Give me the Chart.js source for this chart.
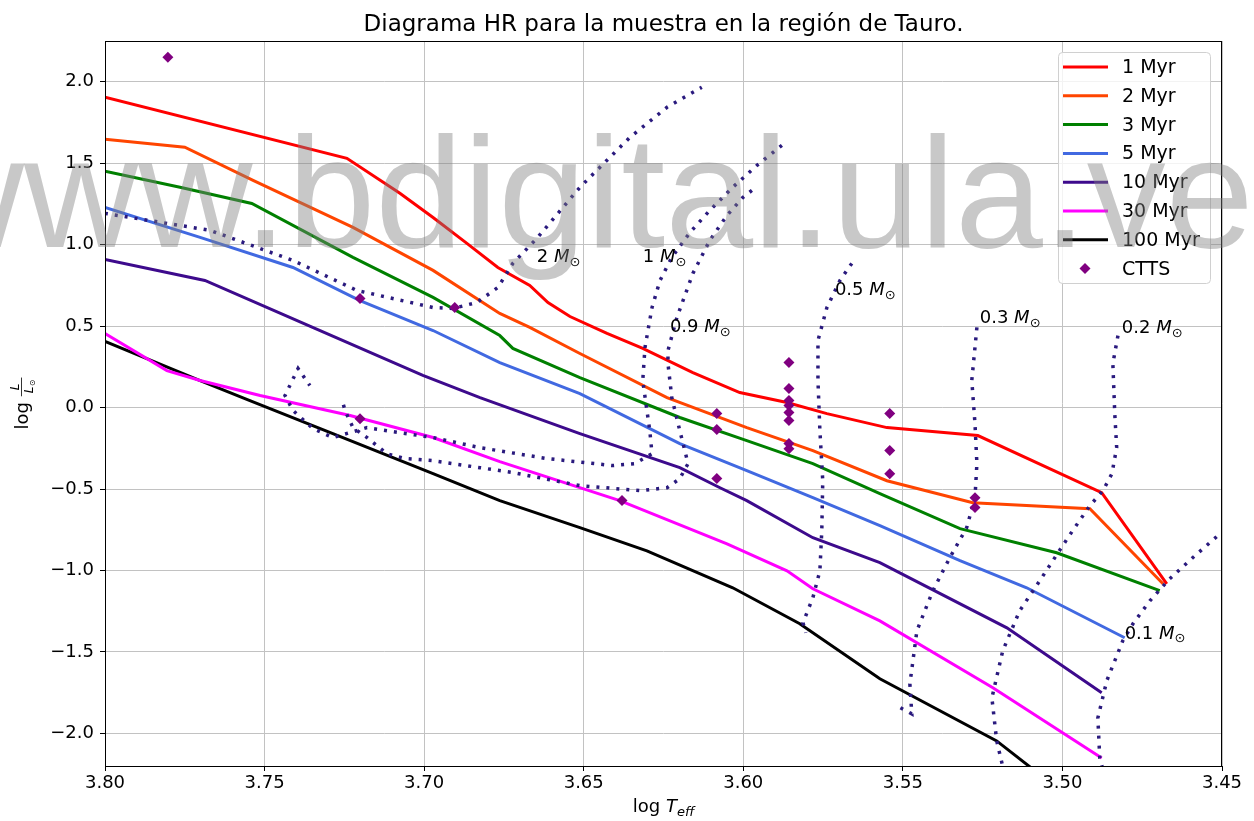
<!DOCTYPE html>
<html>
<head>
<meta charset="utf-8">
<script src="https://cdn.jsdelivr.net/npm/chart.js@4.4.1/dist/chart.umd.min.js"></script>
<style>
  html, body { margin: 0; padding: 0; background: #fff; }
  #wrap { position: relative; width: 1254px; height: 821px; overflow: hidden; }
  #marca {
    position: absolute; left: -90px; top: 113px;
    font-family: "Liberation Sans", Arial, sans-serif; font-size: 158px;
    line-height: 158px; white-space: nowrap; color: rgba(128,128,128,0.43);
    pointer-events: none;
  }
</style>
</head>
<body>
<div id="wrap">
  <canvas id="hr" width="1254" height="821"></canvas>
  <div id="marca">www.bdigital.ula.ve</div>
</div>
<script>
// ejes
const xTicks = [3.80, 3.75, 3.70, 3.65, 3.60, 3.55, 3.50, 3.45];
const yTicks = [-2.0, -1.5, -1.0, -0.5, 0.0, 0.5, 1.0, 1.5, 2.0];

// isocronas [log Teff, log L]
const iso1 = [[3.800,1.905],[3.7242,1.530],[3.7076,1.315],[3.6972,1.167],[3.6866,1.008],[3.6769,0.860],[3.6669,0.750],[3.6612,0.645],[3.6543,0.559],[3.6427,0.455],[3.6315,0.363],[3.6158,0.215],[3.6011,0.092],[3.5863,0.031],[3.5738,-0.037],[3.5550,-0.123],[3.5265,-0.172],[3.4877,-0.522],[3.4673,-1.082]];
const iso2 = [[3.800,1.647],[3.775,1.598],[3.7536,1.395],[3.7223,1.106],[3.6972,0.842],[3.6763,0.578],[3.6669,0.492],[3.6512,0.332],[3.6239,0.061],[3.5989,-0.123],[3.5782,-0.264],[3.5550,-0.449],[3.5281,-0.584],[3.4914,-0.621],[3.4685,-1.081]];
const iso3 = [[3.800,1.450],[3.7765,1.352],[3.7540,1.253],[3.7223,0.922],[3.6972,0.676],[3.6763,0.442],[3.6722,0.363],[3.6512,0.184],[3.6199,-0.061],[3.5989,-0.203],[3.5782,-0.344],[3.5572,-0.528],[3.5321,-0.743],[3.5018,-0.891],[3.4695,-1.124]];
const iso5 = [[3.800,1.229],[3.7702,1.045],[3.7411,0.860],[3.7201,0.657],[3.6972,0.473],[3.6763,0.276],[3.6512,0.086],[3.6199,-0.221],[3.5989,-0.387],[3.5782,-0.553],[3.5572,-0.725],[3.5321,-0.940],[3.5112,-1.106],[3.4805,-1.413]];
const iso10 = [[3.800,0.909],[3.7687,0.780],[3.7326,0.473],[3.7004,0.197],[3.6825,0.061],[3.6512,-0.160],[3.6199,-0.369],[3.6073,-0.492],[3.5989,-0.571],[3.5782,-0.799],[3.5572,-0.952],[3.5174,-1.352],[3.4877,-1.751]];
const iso30 = [[3.800,0.455],[3.7806,0.227],[3.7702,0.166],[3.7514,0.074],[3.7232,-0.049],[3.6972,-0.184],[3.6763,-0.332],[3.6387,-0.571],[3.6051,-0.836],[3.5863,-1.002],[3.5782,-1.112],[3.5572,-1.309],[3.5218,-1.720],[3.4877,-2.151]];
const iso100 = [[3.800,0.406],[3.7702,0.166],[3.7546,0.043],[3.7286,-0.160],[3.6972,-0.406],[3.6763,-0.571],[3.6512,-0.737],[3.6302,-0.879],[3.6033,-1.106],[3.5823,-1.327],[3.5572,-1.665],[3.5206,-2.046],[3.5040,-2.300]];

// trazas evolutivas
const trk2 = [[3.812,1.265],[3.800,1.192],[3.7671,1.088],[3.7411,0.903],[3.7211,0.719],[3.6972,0.614],[3.6910,0.608],[3.6835,0.645],[3.6769,0.737],[3.6722,0.885],[3.6647,1.038],[3.6512,1.352],[3.6355,1.659],[3.6239,1.843],[3.6130,1.966]];
const trk1 = [[3.5879,1.610],[3.5957,1.487],[3.6033,1.352],[3.6105,1.210],[3.6167,1.075],[3.6224,0.922],[3.6261,0.780],[3.6286,0.614],[3.6308,0.369],[3.6315,0.166],[3.6302,-0.018],[3.6293,-0.141],[3.6286,-0.283],[3.6340,-0.344],[3.6409,-0.356],[3.6615,-0.313],[3.6825,-0.246],[3.6972,-0.184],[3.7076,-0.154],[3.7179,-0.123],[3.7286,-0.184],[3.7348,-0.129],[3.7411,-0.018],[3.7436,0.074],[3.7395,0.240],[3.7358,0.135]];
const trk09 = [[3.5973,1.333],[3.6001,1.290],[3.6051,1.180],[3.6105,1.026],[3.6158,0.823],[3.6208,0.553],[3.6236,0.350],[3.6236,0.270],[3.6224,0.061],[3.6199,-0.141],[3.6173,-0.344],[3.6199,-0.436],[3.6239,-0.492],[3.6324,-0.510],[3.6512,-0.479],[3.6722,-0.399],[3.6825,-0.369],[3.6972,-0.326],[3.7060,-0.313],[3.7117,-0.283],[3.7179,-0.184],[3.7223,-0.123],[3.7248,-0.018],[3.7254,0.025]];
const trk05 = [[3.5660,0.885],[3.5697,0.780],[3.5738,0.614],[3.5766,0.412],[3.5766,0.166],[3.5760,-0.141],[3.5751,-0.449],[3.5754,-0.756],[3.5760,-1.002],[3.5782,-1.167],[3.5813,-1.321],[3.5804,-1.382]];
const trk03 = [[3.5268,0.492],[3.5284,0.166],[3.5274,-0.098],[3.5268,-0.344],[3.5274,-0.553],[3.5300,-0.737],[3.5353,-0.922],[3.5406,-1.124],[3.5456,-1.370],[3.5478,-1.696],[3.5472,-1.880],[3.5519,-1.831]];
const trk02 = [[3.4826,0.442],[3.4842,0.270],[3.4836,-0.037],[3.4830,-0.246],[3.4845,-0.406],[3.4873,-0.510],[3.4914,-0.602],[3.4983,-0.799],[3.5065,-1.045],[3.5134,-1.247],[3.5187,-1.493],[3.5221,-1.782],[3.5206,-2.046],[3.5180,-2.261]];
const trk01 = [[3.4444,-0.676],[3.4513,-0.786],[3.4592,-0.922],[3.4664,-1.051],[3.4726,-1.186],[3.4779,-1.327],[3.4811,-1.432],[3.4861,-1.677],[3.4889,-1.905],[3.4883,-2.151],[3.4864,-2.292]];

// etiquetas de masa [texto, log Teff, log L]
const masas = [['2',3.6647,0.922],['1',3.6315,0.922],['0.9',3.6230,0.492],['0.5',3.5713,0.719],['0.3',3.5259,0.547],['0.2',3.4814,0.485],['0.1',3.4805,-1.389]];

// estrellas CTTS
const cttsT = [3.7803,3.7201,3.6904,3.7201,3.6380,3.6083,3.6083,3.6083,3.5857,3.5857,3.5857,3.5857,3.5857,3.5857,3.5857,3.5857,3.5541,3.5541,3.5541,3.5274,3.5274];
const cttsL = [2.150,0.670,0.614,-0.068,-0.571,-0.037,-0.135,-0.436,0.277,0.117,0.043,0.012,-0.031,-0.080,-0.221,-0.252,-0.037,-0.264,-0.406,-0.553,-0.614];

const isoNames = ['1 Myr','2 Myr','3 Myr','5 Myr','10 Myr','30 Myr','100 Myr'];
const isoColors = ['#ff0000','#ff4500','#008000','#4169e1','#3d0a8c','#ff00ff','#000000'];
const isoData = [iso1, iso2, iso3, iso5, iso10, iso30, iso100];
const tracks = [trk2, trk1, trk09, trk05, trk03, trk02, trk01];
const trackColor = '#2a1a7e';
const cttsColor = '#800080';

const FONT = '"DejaVu Sans", sans-serif';
const toXY = arr => arr.map(p => ({x: p[0], y: p[1]}));

const datasets = [];
datasets.push({
    label: 'CTTS',
    data: cttsT.map((t, i) => ({x: t, y: cttsL[i]})),
    showLine: false,
    pointStyle: 'rectRot',
    pointRadius: 5.5,
    backgroundColor: cttsColor,
    borderColor: cttsColor,
    borderWidth: 0,
    order: 0
});
isoData.forEach((d, i) => {
    datasets.push({
        label: isoNames[i],
        data: toXY(d),
        showLine: true,
        borderColor: isoColors[i],
        borderWidth: 3,
        pointRadius: 0,
        tension: 0,
        order: 2
    });
});
tracks.forEach(d => {
    datasets.push({
        label: '',
        data: toXY(d),
        showLine: true,
        borderColor: trackColor,
        borderWidth: 3.5,
        borderDash: [3, 7],
        pointRadius: 0,
        tension: 0,
        order: 1
    });
});

// dibujos extra: marco, titulo, etiquetas, leyenda
const extras = {
    id: 'extras',
    afterDraw(chart) {
        const ctx = chart.ctx;
        const a = chart.chartArea;
        const xs = chart.scales.x, ys = chart.scales.y;
        ctx.save();

        // marco
        ctx.strokeStyle = '#000';
        ctx.lineWidth = 1;
        ctx.strokeRect(a.left + 0.5, a.top + 0.5, a.right - a.left - 1, a.bottom - a.top);

        // etiquetas de masa
        ctx.fillStyle = '#000';
        ctx.textBaseline = 'middle';
        masas.forEach(m => {
            let px = xs.getPixelForValue(m[1]);
            const py = ys.getPixelForValue(m[2]);
            ctx.font = '18px ' + FONT;
            ctx.fillText(m[0] + ' ', px, py);
            px += ctx.measureText(m[0] + ' ').width;
            ctx.font = 'italic 18px ' + FONT;
            ctx.fillText('M', px, py);
            px += ctx.measureText('M').width;
            ctx.font = '13px ' + FONT;
            ctx.fillText('\u2299', px, py + 5);
        });

        // titulo
        ctx.textAlign = 'center';
        ctx.textBaseline = 'alphabetic';
        ctx.font = '23px ' + FONT;
        ctx.fillText('Diagrama HR para la muestra en la región de Tauro.', (a.left + a.right) / 2, 31);

        // eje x
        ctx.textAlign = 'left';
        ctx.font = '18px ' + FONT;
        const xl = 'log ';
        let w1 = ctx.measureText(xl).width;
        ctx.font = 'italic 18px ' + FONT;
        let w2 = ctx.measureText('T').width;
        ctx.font = 'italic 13px ' + FONT;
        let w3 = ctx.measureText('eff').width;
        let sx = (a.left + a.right) / 2 - (w1 + w2 + w3) / 2;
        ctx.font = '18px ' + FONT;
        ctx.fillText(xl, sx, 812);
        ctx.font = 'italic 18px ' + FONT;
        ctx.fillText('T', sx + w1, 812);
        ctx.font = 'italic 13px ' + FONT;
        ctx.fillText('eff', sx + w1 + w2, 816);

        // eje y
        ctx.save();
        ctx.translate(28, (a.top + a.bottom) / 2);
        ctx.rotate(-Math.PI / 2);
        ctx.font = '18px ' + FONT;
        const lw = ctx.measureText('log ').width;
        ctx.font = '12px ' + FONT;
        const fw = ctx.measureText('L\u2299').width + 2;
        let y0 = -(lw + fw) / 2;
        ctx.font = '18px ' + FONT;
        ctx.fillText('log ', y0, 0);
        const fx = y0 + lw;
        ctx.lineWidth = 0.8;
        ctx.beginPath();
        ctx.moveTo(fx, -6.5);
        ctx.lineTo(fx + fw, -6.5);
        ctx.stroke();
        ctx.textAlign = 'center';
        ctx.font = 'italic 12px ' + FONT;
        ctx.fillText('L', fx + fw / 2, -9);
        ctx.fillText('L', fx + fw / 2 - 3, 5);
        ctx.font = '8px ' + FONT;
        ctx.fillText('\u2299', fx + fw / 2 + 4, 7);
        ctx.restore();

        // leyenda
        const lx = 1058, ly = 52, lwid = 152, lh = 231;
        ctx.fillStyle = 'rgba(255,255,255,0.8)';
        ctx.strokeStyle = '#d0d0d0';
        ctx.lineWidth = 1;
        ctx.beginPath();
        ctx.roundRect(lx + 0.5, ly + 0.5, lwid, lh, 4);
        ctx.fill();
        ctx.stroke();
        ctx.textAlign = 'left';
        ctx.textBaseline = 'middle';
        ctx.font = '19px ' + FONT;
        isoNames.forEach((n, i) => {
            const yy = 67 + i * 28.8;
            ctx.strokeStyle = isoColors[i];
            ctx.lineWidth = 3;
            ctx.beginPath();
            ctx.moveTo(1063, yy);
            ctx.lineTo(1108, yy);
            ctx.stroke();
            ctx.fillStyle = '#000';
            ctx.fillText(n, 1122, yy + 1);
        });
        const yc = 67 + 7 * 28.8;
        ctx.fillStyle = cttsColor;
        ctx.beginPath();
        ctx.moveTo(1085, yc - 5.5);
        ctx.lineTo(1090.5, yc);
        ctx.lineTo(1085, yc + 5.5);
        ctx.lineTo(1079.5, yc);
        ctx.closePath();
        ctx.fill();
        ctx.fillStyle = '#000';
        ctx.fillText('CTTS', 1122, yc + 1);

        ctx.restore();
    }
};

const chart = new Chart(document.getElementById('hr'), {
    type: 'scatter',
    data: { datasets: datasets },
    options: {
        responsive: false,
        animation: false,
        devicePixelRatio: 1,
        layout: { padding: { top: 41, right: 32, left: 0, bottom: 0 } },
        plugins: {
            legend: { display: false },
            title: { display: false },
            tooltip: { enabled: false }
        },
        scales: {
            x: {
                type: 'linear',
                reverse: true,
                min: 3.45,
                max: 3.80,
                afterBuildTicks: s => { s.ticks = xTicks.map(v => ({value: v})); },
                afterFit: s => { s.height = 55; },
                ticks: {
                    color: '#000',
                    font: { family: 'DejaVu Sans', size: 18 },
                    padding: 2,
                    maxRotation: 0,
                    callback: v => Number(v).toFixed(2)
                },
                grid: { color: '#c2c2c2', lineWidth: 1, tickColor: '#000', tickLength: 5 },
                border: { display: false }
            },
            y: {
                type: 'linear',
                min: -2.2,
                max: 2.25,
                afterBuildTicks: s => { s.ticks = yTicks.map(v => ({value: v})); },
                afterFit: s => { s.width = 105; },
                ticks: {
                    color: '#000',
                    font: { family: 'DejaVu Sans', size: 18 },
                    padding: 6,
                    callback: v => Number(v).toFixed(1).replace('-', '\u2212')
                },
                grid: { color: '#c2c2c2', lineWidth: 1, tickColor: '#000', tickLength: 5 },
                border: { display: false }
            }
        }
    },
    plugins: [extras]
});
</script>
</body>
</html>
